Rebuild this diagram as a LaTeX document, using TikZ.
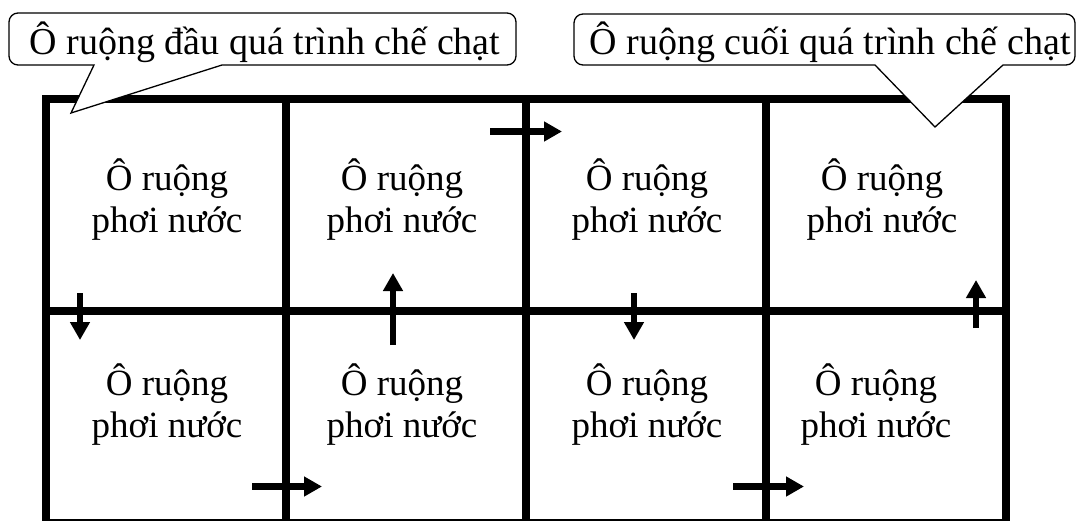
\documentclass[tikz,border=0pt]{standalone}
\usepackage{fontspec}
\setmainfont{Liberation Serif}
\usetikzlibrary{arrows.meta}
\begin{document}
\begin{tikzpicture}[x=1pt,y=-1pt,
  grid/.style={line width=8pt,line join=miter},
  flow/.style={line width=6.5pt,-{Triangle[length=18pt,width=19pt]}},
  cell/.style={align=center,anchor=base,inner sep=0pt,font=\fontsize{37}{42}\selectfont},
  callout/.style={draw=black,fill=white,line width=1.3pt,line join=miter},
  calltext/.style={anchor=base,inner sep=0pt,font=\fontsize{38}{42}\selectfont}]
\useasboundingbox (0,0) rectangle (1078,520);
% grid
\draw[grid] (46,99) rectangle (1006,523);
\draw[grid] (46,311) -- (1006,311);
\draw[grid] (285.5,99) -- (285.5,523);
\draw[grid] (526,99) -- (526,523);
\draw[grid] (766,99) -- (766,523);
% cell texts (base = baseline of the last line)
\node[cell] (c11) at (167,232) {Ô ruộng\\phơi nước};
\node[cell] (c12) at (402,232) {Ô ruộng\\phơi nước};
\node[cell] (c13) at (647,232) {Ô ruộng\\phơi nước};
\node[cell] (c14) at (882,232) {Ô ruộng\\phơi nước};
\node[cell] (c21) at (167,437) {Ô ruộng\\phơi nước};
\node[cell] (c22) at (402,437) {Ô ruộng\\phơi nước};
\node[cell] (c23) at (647,437) {Ô ruộng\\phơi nước};
\node[cell] (c24) at (876,437) {Ô ruộng\\phơi nước};
% arrows
\coordinate (a1s) at (490,131.5); \coordinate (a1e) at (562,131.5);
\coordinate (a2s) at (393,345);   \coordinate (a2e) at (393,273);
\coordinate (a3s) at (80,293);    \coordinate (a3e) at (80,340);
\coordinate (a4s) at (252,486.5); \coordinate (a4e) at (322,486.5);
\coordinate (a5s) at (634,293);   \coordinate (a5e) at (634,340);
\coordinate (a6s) at (733,486.5); \coordinate (a6e) at (804,486.5);
\coordinate (a7s) at (976,328);   \coordinate (a7e) at (976,280);
\foreach \i in {1,...,7} \draw[flow] (a\i s) -- (a\i e);
% callouts
\draw[callout] (94,65) -- (60,65) [rounded corners=9pt] -- (9,65) -- (9,13) -- (516,13) -- (516,65) -- (480,65) [sharp corners] -- (222,65) -- (71,113) -- cycle;
\node[calltext] (t1) at (265,54) {Ô ruộng đầu quá trình chế chạt};
\draw[callout] (875,65) -- (620,65) [rounded corners=9pt] -- (574,65) -- (574,14) -- (1075,14) -- (1075,65) -- (1040,65) [sharp corners] -- (1003,65) -- (935,127) -- cycle;
\node[calltext] (t2) at (830,54) {Ô ruộng cuối quá trình chế chạt};
\end{tikzpicture}
\end{document}
